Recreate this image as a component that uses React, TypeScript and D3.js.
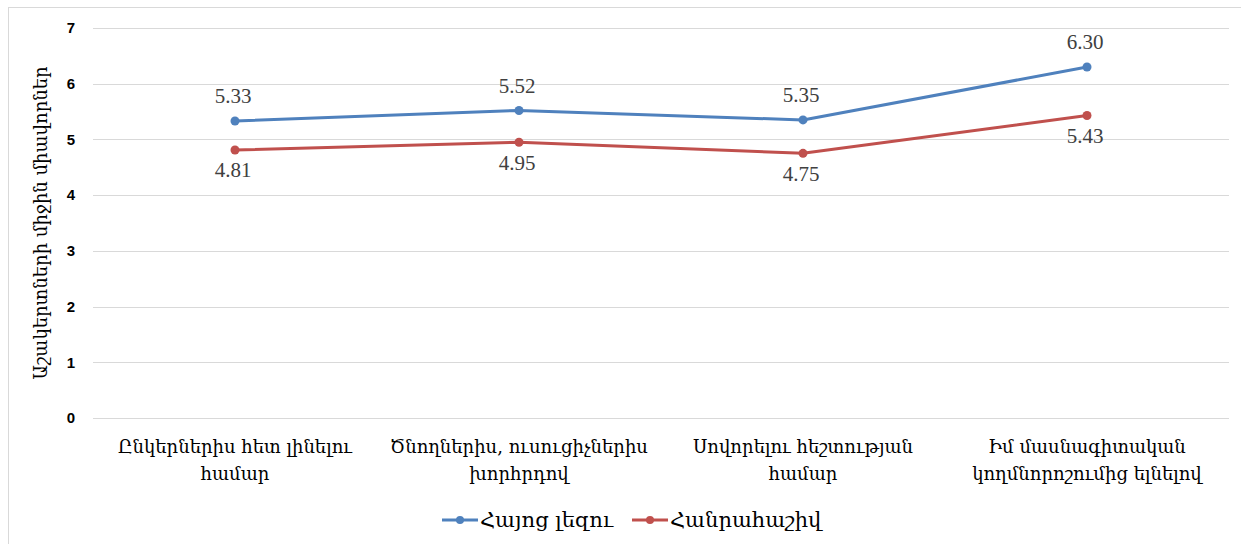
import React from "react";
import * as d3 from "d3";

// categories (two-line tick labels, as in the original)
const categories = [
  ["Ընկերներիս հետ լինելու", "համար"],
  ["Ծնողներիս, ուսուցիչներիս", "խորհրդով"],
  ["Սովորելու հեշտության", "համար"],
  ["Իմ մասնագիտական", "կողմնորոշումից ելնելով"],
];
const seriesNames = ["Հայոց լեզու", "Հանրահաշիվ"];
const armenian = [5.33, 5.52, 5.35, 6.3];
const algebra = [4.81, 4.95, 4.75, 5.43];
const yTicks = [0, 1, 2, 3, 4, 5, 6, 7];
const yTitle = "Աշակերտների միջին միավորներ";

const colors = ["#4f81bd", "#c0504d"];
const W = 1241;
const H = 544;
const margin = { left: 93, right: 12, top: 28, bottom: 126 };
const serif = "'DejaVu Serif', 'Liberation Serif', serif";

export default function App() {
  const x = d3
    .scalePoint<number>()
    .domain(d3.range(categories.length))
    .range([margin.left, W - margin.right])
    .padding(0.5);
  const y = d3
    .scaleLinear()
    .domain([0, 7])
    .range([H - margin.bottom, margin.top]);

  const line = d3
    .line<number>()
    .x((_, i) => x(i)!)
    .y((d) => y(d));

  const series = [armenian, algebra];

  return (
    <svg
      width={W}
      height={H}
      style={{ position: "absolute", left: 0, top: 0, background: "#fff" }}
    >
      <rect x={8.5} y={7.5} width={W + 20} height={H + 20} fill="#fff" stroke="#d9d9d9" />

      {yTicks.map((t) => (
        <g key={t}>
          <line
            x1={margin.left}
            x2={W - margin.right}
            y1={Math.round(y(t)) + 0.5}
            y2={Math.round(y(t)) + 0.5}
            stroke="#d9d9d9"
            strokeWidth={1}
          />
          <text
            x={75}
            y={y(t)}
            dy="0.35em"
            textAnchor="end"
            fontFamily="'Liberation Sans', Arial, sans-serif"
            fontWeight="bold"
            fontSize={15}
            fill="#000"
          >
            {t}
          </text>
        </g>
      ))}

      <text
        transform={`translate(41,${(y(0) + y(7)) / 2}) rotate(-90)`}
        textAnchor="middle"
        dy="0.35em"
        fontFamily={serif}
        fontSize={18}
        fill="#000"
      >
        {yTitle}
      </text>

      {categories.map((lines, i) => (
        <text
          key={i}
          x={x(i)}
          y={453}
          textAnchor="middle"
          fontFamily={serif}
          fontSize={18}
          fill="#000"
        >
          {lines.map((l, j) => (
            <tspan key={j} x={x(i)} dy={j === 0 ? 0 : 27}>
              {l}
            </tspan>
          ))}
        </text>
      ))}

      {series.map((s, k) => (
        <g key={k}>
          <path d={line(s)!} fill="none" stroke={colors[k]} strokeWidth={3} strokeLinejoin="round" />
          {s.map((v, i) => (
            <circle key={i} cx={x(i)} cy={y(v)} r={4.5} fill={colors[k]} />
          ))}
          {s.map((v, i) => (
            <text
              key={"l" + i}
              x={x(i)! - 2}
              y={y(v) + (k === 0 ? -25 : 20)}
              dy="0.35em"
              textAnchor="middle"
              fontFamily="'Liberation Serif', serif"
              fontSize={21}
              fill="#404040"
            >
              {v.toFixed(2)}
            </text>
          ))}
        </g>
      ))}

      {seriesNames.map((n, k) => {
        const lx = k === 0 ? 442 : 632;
        return (
          <g key={n}>
            <line x1={lx} x2={lx + 36} y1={520} y2={520} stroke={colors[k]} strokeWidth={3} />
            <circle cx={lx + 18} cy={520} r={4} fill={colors[k]} />
            <text
              x={lx + 38}
              y={520}
              dy="0.35em"
              fontFamily={serif}
              fontSize={21}
              fill="#000"
            >
              {n}
            </text>
          </g>
        );
      })}
    </svg>
  );
}
